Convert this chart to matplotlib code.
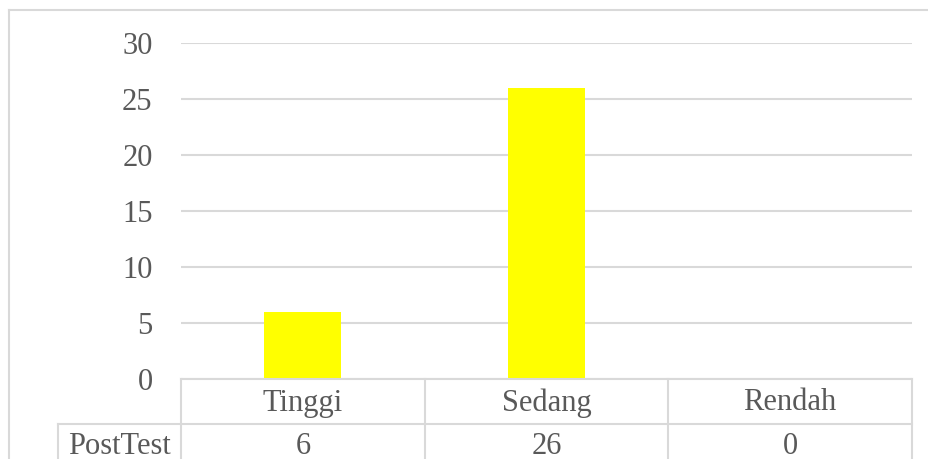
import matplotlib
matplotlib.use("Agg")
import matplotlib.pyplot as plt
from matplotlib.lines import Line2D
import matplotlib.transforms as mtransforms

categories = ["Tinggi", "Sedang", "Rendah"]
series_name = "PostTest"
values = [6, 26, 0]
yticks = [0, 5, 10, 15, 20, 25, 30]

W, H = 929, 459
plt.rcParams['font.family'] = ['Liberation Serif', 'DejaVu Serif']
TXT = '#595959'
GRID = '#D9D9D9'
FS = 22

fig = plt.figure(figsize=(W/100, H/100), dpi=100)
L, R, T, B = 181, 912, 43, 379
ax = fig.add_axes([L/W, 1 - B/H, (R-L)/W, (B-T)/H])

x = list(range(len(categories)))
ax.bar(x, values, width=0.316, color='#FFFF00', zorder=2)
ax.set_xlim(-0.5, len(categories) - 0.5)
ax.set_ylim(0, 30)
ax.set_yticks(yticks)
ax.set_yticklabels([str(t) for t in yticks], fontsize=FS, color=TXT)
ax.tick_params(axis='y', length=0, pad=20.5)
ax.set_xticks([])
for s in ax.spines.values():
    s.set_visible(False)
ax.yaxis.grid(True, color=GRID, linewidth=1.5, zorder=0)
ax.set_axisbelow(True)

def px_line(x0, y0, x1, y1):
    fig.add_artist(Line2D([x0/W, x1/W], [1 - y0/H, 1 - y1/H], transform=fig.transFigure,
                          color=GRID, linewidth=1.5))

# outer chart border (top and left edges; right/bottom fall outside the image)
px_line(9.5, 9.5, W + 5, 9.5)
px_line(9.5, 9.5, 9.5, H + 5)

# data table (pixel coords)
row1_top, row2_top, row2_bot = 379, 424, 470
px_line(L, row1_top, R, row1_top)
px_line(58, row2_top, R, row2_top)
px_line(58, row2_top, 58, row2_bot)
cell_w = (R - L) / len(categories)
for i in range(len(categories) + 1):
    xx = L + i * cell_w
    px_line(xx, row1_top, xx, row2_bot)

trans = mtransforms.blended_transform_factory(ax.transData, fig.transFigure)
for i, (c, v) in enumerate(zip(categories, values)):
    ax.text(i, 1 - 403/H, c, transform=trans, ha='center', va='center',
            fontsize=FS, color=TXT, clip_on=False)
    ax.text(i, 1 - 446/H, str(v), transform=trans, ha='center', va='center',
            fontsize=FS, color=TXT, clip_on=False)
fig.text(119.5/W, 1 - 446/H, series_name, ha='center', va='center', fontsize=FS, color=TXT)

fig.savefig('out.png', dpi=100)
